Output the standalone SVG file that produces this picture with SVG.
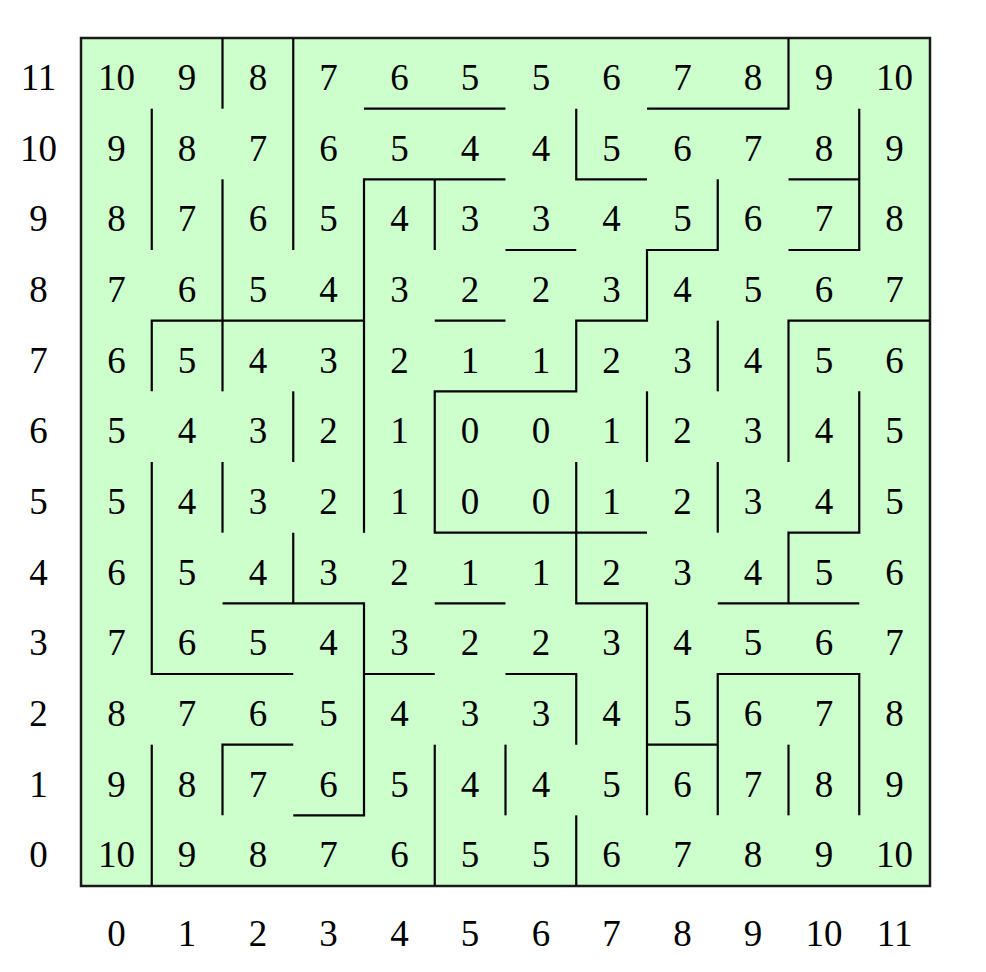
<svg xmlns="http://www.w3.org/2000/svg" width="986" height="972" viewBox="0 0 986 972">
<style>
.bg{fill:#ccffcc;stroke:#1a1a1a;stroke-width:2.5}
.wall{fill:none;stroke:#000;stroke-width:2.2;stroke-linecap:butt;stroke-linejoin:miter}
text{font-family:"Liberation Serif","Times New Roman",serif;font-size:37px;fill:#000;text-anchor:middle}
</style>
<rect id="board" class="bg" x="81" y="38" width="849" height="848"/>
<g id="connectors">
<path class="wall" d="M222.5,38V108.67"/>
<path class="wall" d="M293.25,38V250"/>
<path class="wall" d="M364,108.67H505.5"/>
<path class="wall" d="M647,108.67H788.5V38"/>
<path class="wall" d="M151.75,108.67V250"/>
<path class="wall" d="M576.25,108.67V179.33H647"/>
<path class="wall" d="M788.5,179.33H859.25M859.25,108.67V250H788.5"/>
<path class="wall" d="M505.5,179.33H364V532.67M434.75,179.33V250"/>
<path class="wall" d="M222.5,179.33V391.33"/>
<path class="wall" d="M505.5,250H576.25"/>
<path class="wall" d="M717.75,179.33V250H647V320.67H576.25V391.33H434.75V532.67H647"/>
<path class="wall" d="M434.75,320.67H505.5"/>
<path class="wall" d="M364,320.67H151.75V391.33"/>
<path class="wall" d="M930,320.67H788.5V462"/>
<path class="wall" d="M717.75,320.67V391.33"/>
<path class="wall" d="M293.25,391.33V462"/>
<path class="wall" d="M647,391.33V462"/>
<path class="wall" d="M859.25,391.33V532.67H788.5V603.33M717.75,603.33H859.25"/>
<path class="wall" d="M151.75,462V674H293.25"/>
<path class="wall" d="M222.5,462V532.67"/>
<path class="wall" d="M576.25,462V603.33H647V815.33M647,744.67H717.75"/>
<path class="wall" d="M717.75,462V532.67"/>
<path class="wall" d="M293.25,532.67V603.33M222.5,603.33H364V815.33H293.25"/>
<path class="wall" d="M434.75,603.33H505.5"/>
<path class="wall" d="M364,674H434.75"/>
<path class="wall" d="M505.5,674H576.25V744.67"/>
<path class="wall" d="M717.75,815.33V674H859.25V815.33"/>
<path class="wall" d="M293.25,744.67H222.5V815.33"/>
<path class="wall" d="M151.75,744.67V886"/>
<path class="wall" d="M434.75,744.67V886"/>
<path class="wall" d="M505.5,744.67V815.33"/>
<path class="wall" d="M788.5,744.67V815.33"/>
<path class="wall" d="M576.25,815.33V886"/>
</g>
<g id="cells">
<g id="row11"><text x="116.4" y="90">10</text><text x="187.1" y="90">9</text><text x="257.9" y="90">8</text><text x="328.6" y="90">7</text><text x="399.4" y="90">6</text><text x="470.1" y="90">5</text><text x="540.9" y="90">5</text><text x="611.6" y="90">6</text><text x="682.4" y="90">7</text><text x="753.1" y="90">8</text><text x="823.9" y="90">9</text><text x="894.6" y="90">10</text></g>
<g id="row10"><text x="116.4" y="160.7">9</text><text x="187.1" y="160.7">8</text><text x="257.9" y="160.7">7</text><text x="328.6" y="160.7">6</text><text x="399.4" y="160.7">5</text><text x="470.1" y="160.7">4</text><text x="540.9" y="160.7">4</text><text x="611.6" y="160.7">5</text><text x="682.4" y="160.7">6</text><text x="753.1" y="160.7">7</text><text x="823.9" y="160.7">8</text><text x="894.6" y="160.7">9</text></g>
<g id="row9"><text x="116.4" y="231.3">8</text><text x="187.1" y="231.3">7</text><text x="257.9" y="231.3">6</text><text x="328.6" y="231.3">5</text><text x="399.4" y="231.3">4</text><text x="470.1" y="231.3">3</text><text x="540.9" y="231.3">3</text><text x="611.6" y="231.3">4</text><text x="682.4" y="231.3">5</text><text x="753.1" y="231.3">6</text><text x="823.9" y="231.3">7</text><text x="894.6" y="231.3">8</text></g>
<g id="row8"><text x="116.4" y="302">7</text><text x="187.1" y="302">6</text><text x="257.9" y="302">5</text><text x="328.6" y="302">4</text><text x="399.4" y="302">3</text><text x="470.1" y="302">2</text><text x="540.9" y="302">2</text><text x="611.6" y="302">3</text><text x="682.4" y="302">4</text><text x="753.1" y="302">5</text><text x="823.9" y="302">6</text><text x="894.6" y="302">7</text></g>
<g id="row7"><text x="116.4" y="372.7">6</text><text x="187.1" y="372.7">5</text><text x="257.9" y="372.7">4</text><text x="328.6" y="372.7">3</text><text x="399.4" y="372.7">2</text><text x="470.1" y="372.7">1</text><text x="540.9" y="372.7">1</text><text x="611.6" y="372.7">2</text><text x="682.4" y="372.7">3</text><text x="753.1" y="372.7">4</text><text x="823.9" y="372.7">5</text><text x="894.6" y="372.7">6</text></g>
<g id="row6"><text x="116.4" y="443.3">5</text><text x="187.1" y="443.3">4</text><text x="257.9" y="443.3">3</text><text x="328.6" y="443.3">2</text><text x="399.4" y="443.3">1</text><text x="470.1" y="443.3">0</text><text x="540.9" y="443.3">0</text><text x="611.6" y="443.3">1</text><text x="682.4" y="443.3">2</text><text x="753.1" y="443.3">3</text><text x="823.9" y="443.3">4</text><text x="894.6" y="443.3">5</text></g>
<g id="row5"><text x="116.4" y="514">5</text><text x="187.1" y="514">4</text><text x="257.9" y="514">3</text><text x="328.6" y="514">2</text><text x="399.4" y="514">1</text><text x="470.1" y="514">0</text><text x="540.9" y="514">0</text><text x="611.6" y="514">1</text><text x="682.4" y="514">2</text><text x="753.1" y="514">3</text><text x="823.9" y="514">4</text><text x="894.6" y="514">5</text></g>
<g id="row4"><text x="116.4" y="584.7">6</text><text x="187.1" y="584.7">5</text><text x="257.9" y="584.7">4</text><text x="328.6" y="584.7">3</text><text x="399.4" y="584.7">2</text><text x="470.1" y="584.7">1</text><text x="540.9" y="584.7">1</text><text x="611.6" y="584.7">2</text><text x="682.4" y="584.7">3</text><text x="753.1" y="584.7">4</text><text x="823.9" y="584.7">5</text><text x="894.6" y="584.7">6</text></g>
<g id="row3"><text x="116.4" y="655.3">7</text><text x="187.1" y="655.3">6</text><text x="257.9" y="655.3">5</text><text x="328.6" y="655.3">4</text><text x="399.4" y="655.3">3</text><text x="470.1" y="655.3">2</text><text x="540.9" y="655.3">2</text><text x="611.6" y="655.3">3</text><text x="682.4" y="655.3">4</text><text x="753.1" y="655.3">5</text><text x="823.9" y="655.3">6</text><text x="894.6" y="655.3">7</text></g>
<g id="row2"><text x="116.4" y="726">8</text><text x="187.1" y="726">7</text><text x="257.9" y="726">6</text><text x="328.6" y="726">5</text><text x="399.4" y="726">4</text><text x="470.1" y="726">3</text><text x="540.9" y="726">3</text><text x="611.6" y="726">4</text><text x="682.4" y="726">5</text><text x="753.1" y="726">6</text><text x="823.9" y="726">7</text><text x="894.6" y="726">8</text></g>
<g id="row1"><text x="116.4" y="796.7">9</text><text x="187.1" y="796.7">8</text><text x="257.9" y="796.7">7</text><text x="328.6" y="796.7">6</text><text x="399.4" y="796.7">5</text><text x="470.1" y="796.7">4</text><text x="540.9" y="796.7">4</text><text x="611.6" y="796.7">5</text><text x="682.4" y="796.7">6</text><text x="753.1" y="796.7">7</text><text x="823.9" y="796.7">8</text><text x="894.6" y="796.7">9</text></g>
<g id="row0"><text x="116.4" y="867.3">10</text><text x="187.1" y="867.3">9</text><text x="257.9" y="867.3">8</text><text x="328.6" y="867.3">7</text><text x="399.4" y="867.3">6</text><text x="470.1" y="867.3">5</text><text x="540.9" y="867.3">5</text><text x="611.6" y="867.3">6</text><text x="682.4" y="867.3">7</text><text x="753.1" y="867.3">8</text><text x="823.9" y="867.3">9</text><text x="894.6" y="867.3">10</text></g>
</g>
<g id="row-labels">
<text x="38.5" y="90">11</text><text x="38.5" y="160.7">10</text><text x="38.5" y="231.3">9</text><text x="38.5" y="302">8</text><text x="38.5" y="372.7">7</text><text x="38.5" y="443.3">6</text><text x="38.5" y="514">5</text><text x="38.5" y="584.7">4</text><text x="38.5" y="655.3">3</text><text x="38.5" y="726">2</text><text x="38.5" y="796.7">1</text><text x="38.5" y="867.3">0</text>
</g>
<g id="col-labels">
<text x="116.4" y="946">0</text><text x="187.1" y="946">1</text><text x="257.9" y="946">2</text><text x="328.6" y="946">3</text><text x="399.4" y="946">4</text><text x="470.1" y="946">5</text><text x="540.9" y="946">6</text><text x="611.6" y="946">7</text><text x="682.4" y="946">8</text><text x="753.1" y="946">9</text><text x="823.9" y="946">10</text><text x="894.6" y="946">11</text>
</g>
</svg>
